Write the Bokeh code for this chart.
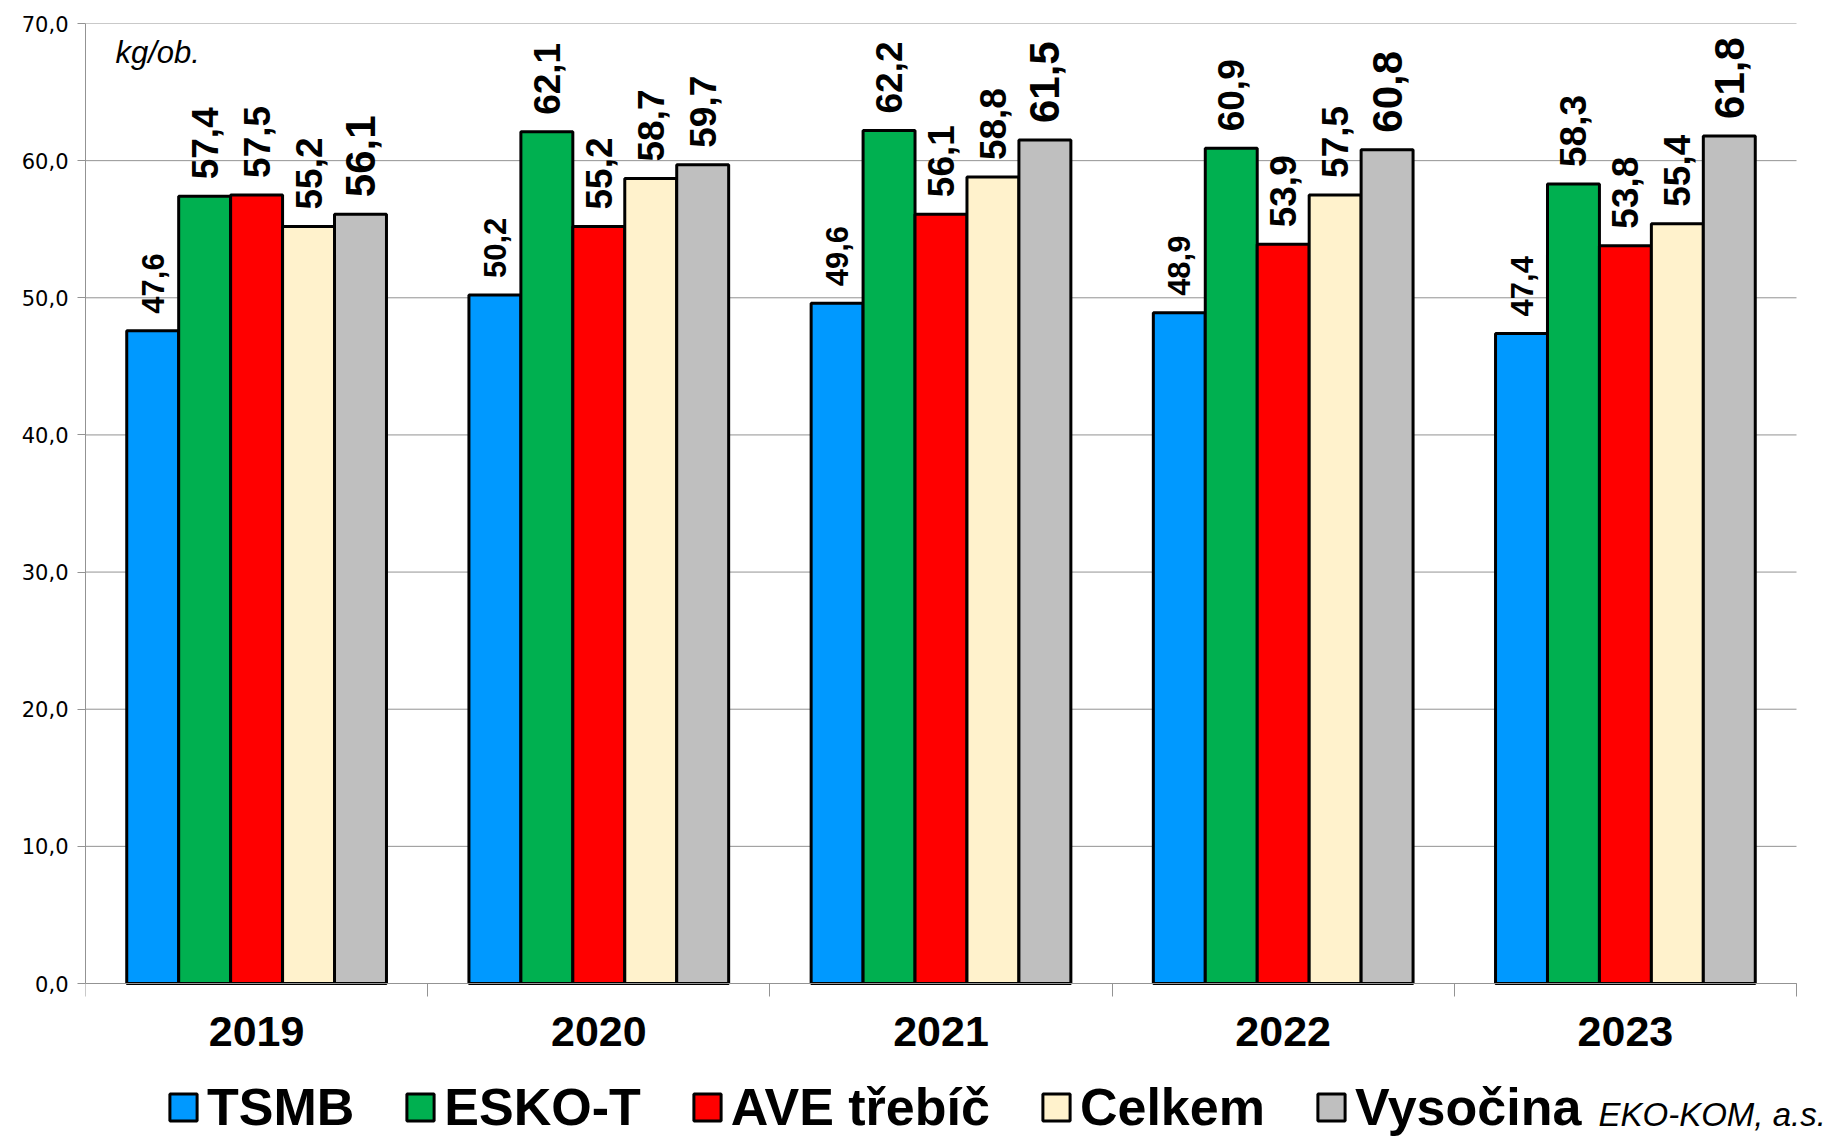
import math
from bokeh.plotting import figure
from bokeh.models import (ColumnDataSource, Range1d, FixedTicker, Legend, LegendItem, Label)
from bokeh.core.properties import value
from bokeh.embed import file_html
from bokeh.resources import INLINE

# ---- data ----
years = ["2019", "2020", "2021", "2022", "2023"]
series_names = ["TSMB", "ESKO-T", "AVE třebíč", "Celkem", "Vysočina"]
tsmb = [47.6, 50.2, 49.6, 48.9, 47.4]
esko_t = [57.4, 62.1, 62.2, 60.9, 58.3]
ave_trebic = [57.5, 55.2, 56.1, 53.9, 53.8]
celkem = [55.2, 58.7, 58.8, 57.5, 55.4]
vysocina = [56.1, 59.7, 61.5, 60.8, 61.8]
y_ticks = [0, 10, 20, 30, 40, 50, 60, 70]

series_values = [tsmb, esko_t, ave_trebic, celkem, vysocina]
colors = ["#0099FF", "#00B050", "#FF0000", "#FFF2CC", "#BFBFBF"]
label_sizes = [["31px"] * 5, ["37px"] * 5, ["37px"] * 5, ["37px"] * 5,
               ["42px", "37px", "42px", "42px", "42px"]]

def fmt(v):
    return f"{v:.1f}".replace(".", ",")

W, H = 1833, 1136
LEFT, TOP = 85, 23
ZERO_Y = 983            # pixel row of the zero line
CAT_PX = 342.2          # pixel width of one category
px_per_unit = (ZERO_Y - TOP) / 70.0
y_min = -(H - ZERO_Y) / px_per_unit
x_max = (W - LEFT) / CAT_PX
GRID = "#939393"

p = figure(width=W, height=H, output_backend="svg", toolbar_location=None,
           x_range=Range1d(0, x_max), y_range=Range1d(y_min, 70),
           min_border_left=LEFT, min_border_right=0, min_border_top=TOP,
           min_border_bottom=0)
p.outline_line_color = None
p.background_fill_color = "white"
p.border_fill_color = "white"

# horizontal grid lines, limited to the category span
p.xgrid.visible = False
p.ygrid.visible = False
p.segment(x0=[0] * len(y_ticks), x1=[len(years)] * len(y_ticks), y0=y_ticks, y1=y_ticks,
          line_color=GRID, line_width=1, level="underlay")

bw = 0.1518
n = len(series_names)
renderers = []
for j, (name, vals, col) in enumerate(zip(series_names, series_values, colors)):
    xs = [i + 0.5 + (j - (n - 1) / 2) * bw for i in range(len(years))]
    src = ColumnDataSource(dict(x=xs, top=vals, lab=[fmt(v) for v in vals],
                                fs=label_sizes[j]))
    r = p.vbar(x="x", top="top", bottom=0, width=bw, source=src, fill_color=col,
               line_color="black", line_width=3)
    renderers.append(r)
    p.text(x="x", y="top", text="lab", source=src, angle=math.pi / 2,
           text_align="left", text_baseline="middle", y_offset=-17,
           text_font=value("Liberation Sans"), text_font_style="bold",
           text_font_size="fs", text_color="black")

# y axis
p.yaxis.ticker = FixedTicker(ticks=y_ticks)
p.yaxis.bounds = (0, 70)
p.yaxis.major_label_overrides = {t: fmt(t) for t in y_ticks}
p.yaxis.major_label_text_font = "DejaVu Sans"
p.yaxis.major_label_text_font_size = "21px"
p.yaxis.major_label_text_color = "black"
p.yaxis.major_label_standoff = 9
p.yaxis.major_tick_out = 8
p.yaxis.major_tick_in = 0
p.yaxis.minor_tick_line_color = None
p.yaxis.axis_line_color = GRID
p.yaxis.major_tick_line_color = GRID

# x axis, drawn at the zero line
centers = [i + 0.5 for i in range(len(years))]
p.xaxis.fixed_location = 0
p.xaxis.bounds = (0, len(years))
p.xaxis.ticker = FixedTicker(ticks=centers, minor_ticks=list(range(len(years) + 1)))
p.xaxis.major_label_overrides = {c: y for c, y in zip(centers, years)}
p.xaxis.major_label_text_font = "Liberation Sans"
p.xaxis.major_label_text_font_style = "bold"
p.xaxis.major_label_text_font_size = "43px"
p.xaxis.major_label_text_color = "black"
p.xaxis.major_label_standoff = 20
p.xaxis.major_tick_out = 0
p.xaxis.major_tick_in = 0
p.xaxis.major_tick_line_color = None
p.xaxis.minor_tick_out = 13
p.xaxis.minor_tick_in = 0
p.xaxis.minor_tick_line_color = GRID
p.xaxis.axis_line_color = GRID

# unit label
p.add_layout(Label(x=30, y=H - 52, x_units="screen", y_units="screen", text="kg/ob.",
                   text_font="Liberation Sans", text_font_style="italic",
                   text_font_size="31px", text_color="black",
                   text_baseline="alphabetic"))
# source note
p.add_layout(Label(x=1598 - LEFT, y=H - 1114, x_units="screen", y_units="screen",
                   text="EKO-KOM, a.s.", text_font="Liberation Sans",
                   text_font_style="italic", text_font_size="33px",
                   text_color="black", text_baseline="alphabetic"))

legend = Legend(items=[LegendItem(label=nm, renderers=[r]) for nm, r in zip(series_names, renderers)],
                orientation="horizontal", location=(81, -1),
                glyph_width=34, glyph_height=34, label_standoff=7, spacing=49,
                padding=0, margin=0, border_line_color=None,
                background_fill_alpha=0,
                label_text_font="Liberation Sans", label_text_font_style="bold",
                label_text_font_size="52px", label_text_color="black")
p.add_layout(legend, "center")

open("out.html", "w").write(file_html(p, INLINE))
